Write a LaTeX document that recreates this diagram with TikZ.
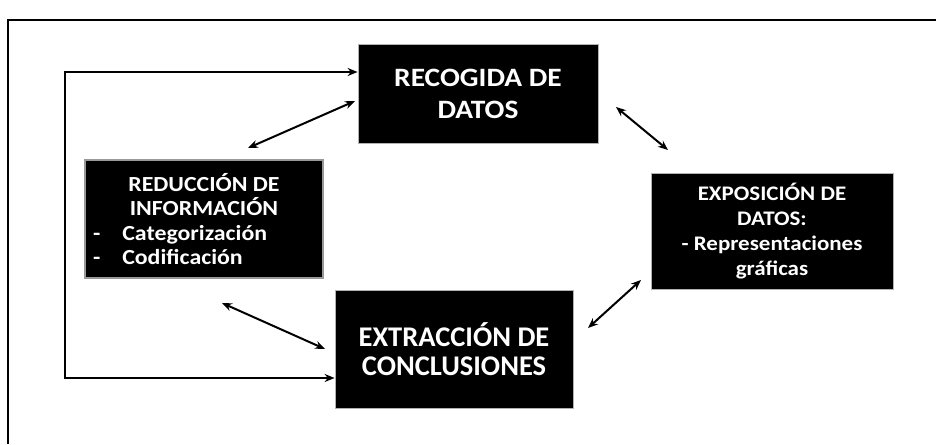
\documentclass[tikz,border=0pt]{standalone}
\usepackage{fontspec}
\setmainfont{Carlito}
\newfontfamily\anchafont{Carlito}[FakeStretch=1.11]
\usetikzlibrary{arrows.meta}
\tikzset{
  caja/.style={fill=black, draw=gray!60, line width=0.8pt, text=white, font=\bfseries, align=center, inner sep=0pt},
  flecha/.style={line width=2pt, {Stealth[length=10pt,width=8pt]}-{Stealth[length=10pt,width=8pt]}}
}
\begin{document}
\begin{tikzpicture}[x=1pt, y=-1pt]
\useasboundingbox (0,0) rectangle (936,444);
\draw[line width=2.5pt] (8,444) -- (8,20) -- (936,20);
\node[caja, minimum width=240pt, minimum height=99pt, font=\anchafont\bfseries\fontsize{26.5}{32}\selectfont] (Rec) at (478,93.5) {RECOGIDA DE\\DATOS};
\node[caja, minimum width=238pt, minimum height=118pt, draw=gray!80, line width=1.2pt, font=\anchafont\bfseries\fontsize{21.5}{24.5}\selectfont] (Red) at (204,219) {REDUCCIÓN DE\\INFORMACIÓN\\\makebox[222pt][l]{-\hspace{22pt}Categorización}\\\makebox[222pt][l]{-\hspace{22pt}Codificación}};
\node[caja, minimum width=242pt, minimum height=116pt, font=\anchafont\bfseries\fontsize{20.7}{25}\selectfont] (Exp) at (772,231) {EXPOSICIÓN DE\\DATOS:\\- Representaciones\\gráficas};
\node[caja, minimum width=238pt, minimum height=118pt, font=\bfseries\fontsize{28.5}{29.5}\selectfont] (Ext) at (454,349) {EXTRACCIÓN DE\\CONCLUSIONES};
% flechas dobles
\coordinate (a1) at (355,101);
\coordinate (b1) at (248,148);
\draw[flecha] (a1) -- (b1);
\coordinate (a2) at (616,107);
\coordinate (b2) at (668,150);
\draw[flecha] (a2) -- (b2);
\coordinate (a3) at (641,280);
\coordinate (b3) at (588,328);
\draw[flecha] (a3) -- (b3);
\coordinate (a4) at (222,303);
\coordinate (b4) at (325,349);
\draw[flecha] (a4) -- (b4);
% retorno
\coordinate (fbTop) at (65,72);
\coordinate (fbBot) at (65,378);
\draw[flecha, line width=2.5pt] (Ext.west |- fbBot) -- (fbBot) -- (fbTop) -- (Rec.west |- fbTop);
\end{tikzpicture}
\end{document}
